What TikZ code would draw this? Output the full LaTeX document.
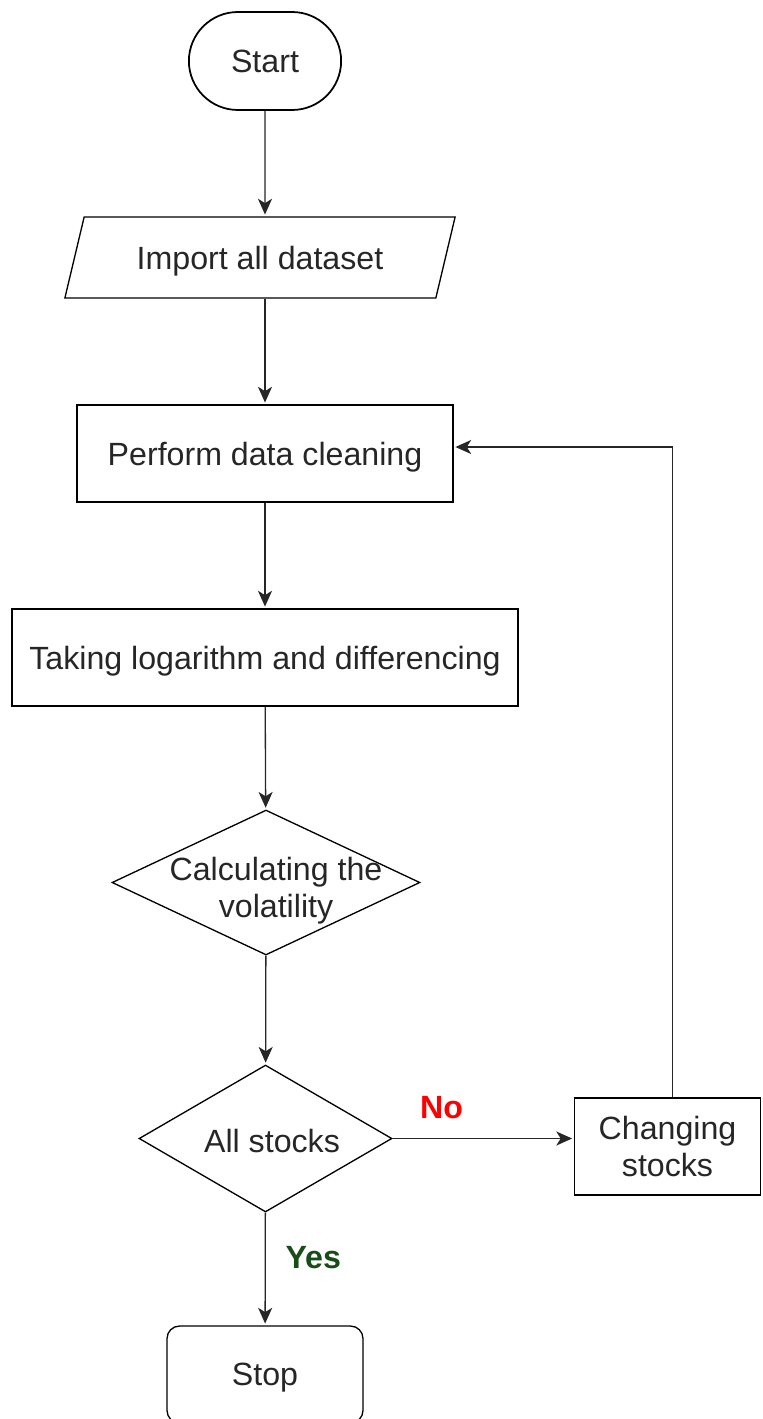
\documentclass[tikz,border=0pt]{standalone}
\usepackage{fontspec}
\setmainfont{Liberation Sans}
\usepackage{tikz}
\usetikzlibrary{arrows.meta,shapes.geometric,shapes.misc}
\definecolor{noRed}{RGB}{255,0,0}
\definecolor{yesGreen}{RGB}{24,76,24}

\begin{document}
\begin{tikzpicture}[x=0.02cm,y=-0.02cm,shorten >=1pt,semithick]
        \tikzstyle{txt}=[
            text=black!85,
            font=\fontsize{18.3pt}{21pt}\selectfont,
            text depth=0pt
        ]
        \tikzstyle{flowbox}=[
            rectangle,
            draw=black,
            line width=0.75pt,
            txt,
            minimum height=1.94cm
        ]
        \tikzstyle{decide}=[
            diamond,
            draw=black,
            line width=0.75pt,
            inner sep=0pt
        ]
        \tikzstyle{link}=[
            -{Stealth[length=9pt,width=8pt,inset=2.5pt]},
            draw=black!85,
            line width=0.75pt
        ]

        \useasboundingbox (0,0) rectangle (762,1419);

        \node[rounded rectangle, draw=black, line width=1pt, txt, minimum width=3.28cm, minimum height=1.96cm] (start) at (265,61) {Start};
        \node[trapezium, trapezium left angle=68, trapezium right angle=112, trapezium stretches=true, draw=black, line width=0.75pt, txt, minimum width=7.82cm, minimum height=1.62cm] (import) at (260,257.5) {Import all dataset};
        \node[flowbox, minimum width=7.52cm] (clean) at (265,453.5) {Perform data cleaning};
        \node[flowbox, minimum width=10.12cm] (logdiff) at (265,657.5) {Taking logarithm and differencing};
        \node[decide, minimum width=6.16cm, minimum height=2.9cm,
              label={[txt,align=center,xshift=0.2cm,yshift=-0.1cm]center:Calculating the\\volatility}] (calc) at (266,882.5) {};
        \node[decide, minimum width=5.06cm, minimum height=2.94cm,
              label={[txt,xshift=0.13cm,yshift=-0.04cm]center:All stocks}] (allst) at (265.5,1138.5) {};
        \node[flowbox, minimum width=3.72cm, align=center] (change) at (667.5,1146.5) {Changing\\stocks};
        \node[flowbox, rounded corners=0.25cm, minimum width=3.92cm] (stop) at (265,1374.5) {Stop};

        \draw[link] (start) -- (start |- import.north);
        \draw[link] (import.south -| start) -- (clean);
        \draw[link] (clean) -- (logdiff);
        \draw[link] (logdiff) -- (calc);
        \draw[link] (calc) -- (allst);
        \draw[link] (allst.east) -- node[pos=0.27, yshift=0.62cm, txt, text=noRed, font=\fontsize{18.3pt}{21pt}\selectfont\bfseries]{No} (allst.east -| change.west);
        \draw[link] (allst) -- node[pos=0.4, xshift=0.96cm, txt, text=yesGreen, font=\fontsize{18.3pt}{21pt}\selectfont\bfseries]{Yes} (stop);
        \draw[link] ([xshift=0.1cm]change.north) |- ([yshift=0.13cm]clean.east);

    \end{tikzpicture}
\end{document}
